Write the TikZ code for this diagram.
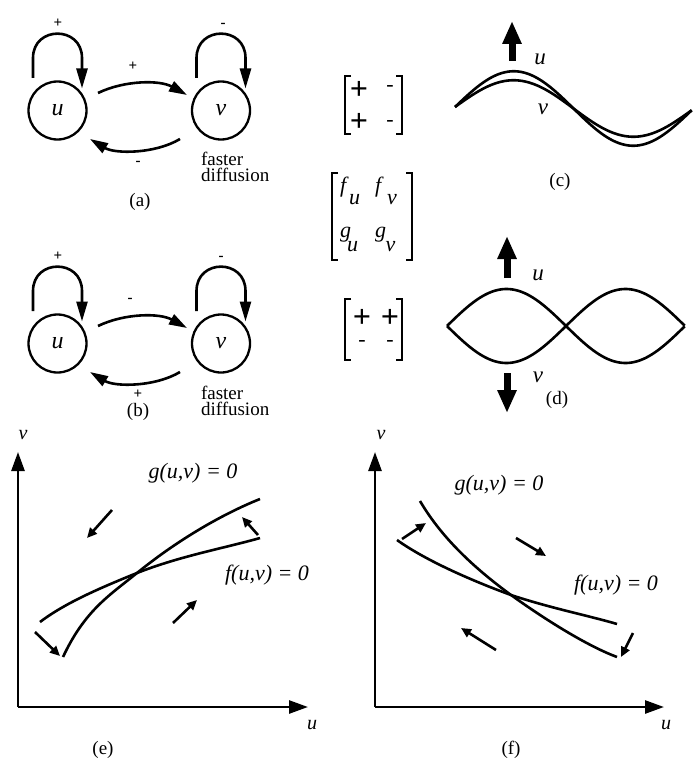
\documentclass[tikz,border=0pt]{standalone}
\usepackage{fontspec}
\setmainfont{Liberation Serif}
\usetikzlibrary{arrows.meta,calc}
\begin{document}
\begin{tikzpicture}[x=1pt,y=-1pt,
  every node/.style={inner sep=0pt, outer sep=0pt},
  varnode/.style={circle, draw, line width=2.3pt, minimum size=58pt, font=\fontsize{24}{24}\selectfont\itshape},
  loopar/.style={line width=2.6pt, -{Triangle[length=20pt,width=11pt]}},
  conn/.style={line width=2.6pt, -{Triangle[length=18pt,width=11pt]}},
  sgn/.style={font=\fontsize{15}{15}\selectfont\bfseries},
  lab/.style={font=\fontsize{19}{16}\selectfont, align=left},
  panellab/.style={font=\fontsize{19}{19}\selectfont},
  bigs/.style={font=\fontsize{32}{32}\selectfont\bfseries},
  smls/.style={font=\fontsize{22}{22}\selectfont},
  ent/.style={font=\fontsize{22}{22}\selectfont\itshape},
  brk/.style={line width=2pt},
  wave/.style={line width=2.6pt},
  blockar/.style={line width=7pt, -{Triangle[length=23pt,width=18pt]}},
  axisar/.style={line width=2.6pt, -{Triangle[length=19pt,width=13pt]}},
  nullc/.style={line width=2.6pt},
  flowar/.style={line width=2.6pt, -{Triangle[length=10pt,width=9pt]}},
  eqlab/.style={font=\fontsize{22}{22}\selectfont\itshape},
  varlab/.style={font=\fontsize{23}{23}\selectfont\itshape},
  axl/.style={font=\fontsize{20}{20}\selectfont\itshape},
  ]
\useasboundingbox (0,0) rectangle (699,765);

% ---------- panel (a)
\node[varnode] (ua) at (57.5,110.5) {u};
\node[varnode] (va) at (221,110.5) {v};
\draw[loopar] ($(ua)+(-24.5,-32.5)$) -- ($(ua)+(-24.5,-52.5)$) .. controls ($(ua)+(-24.5,-85)$) and ($(ua)+(24.5,-85)$) .. ($(ua)+(24.5,-52.5)$) -- ($(ua)+(24.5,-22)$);
\draw[loopar] ($(va)+(-24.5,-32.5)$) -- ($(va)+(-24.5,-52.5)$) .. controls ($(va)+(-24.5,-85)$) and ($(va)+(24.5,-85)$) .. ($(va)+(24.5,-52.5)$) -- ($(va)+(24.5,-22)$);
\node[sgn] (sa1) at (58,23) {+};
\node[sgn] (sa2) at (223,25) {-};
\draw[conn] ($(ua)+(40.5,-17.5)$) .. controls ($(ua)+(67.5,-30.5)$) and ($(va)+(-61,-30.5)$) .. ($(va)+(-34,-15.5)$);
\node[sgn] (sa3) at (133,66) {+};
\draw[conn] ($(va)+(-41,28.5)$) .. controls ($(va)+(-66,43.5)$) and ($(ua)+(57.5,43.5)$) .. ($(ua)+(32.5,28.5)$);
\node[sgn] (sa4) at (138,163) {-};
\node[lab, anchor=north west] (fa) at (201,152) {faster\\diffusion};
\node[panellab] (la) at (140,202) {(a)};

% ---------- panel (b)
\node[varnode] (ub) at (57.5,343.5) {u};
\node[varnode] (vb) at (221,343.5) {v};
\draw[loopar] ($(ub)+(-24.5,-32.5)$) -- ($(ub)+(-24.5,-52.5)$) .. controls ($(ub)+(-24.5,-85)$) and ($(ub)+(24.5,-85)$) .. ($(ub)+(24.5,-52.5)$) -- ($(ub)+(24.5,-22)$);
\draw[loopar] ($(vb)+(-24.5,-32.5)$) -- ($(vb)+(-24.5,-52.5)$) .. controls ($(vb)+(-24.5,-85)$) and ($(vb)+(24.5,-85)$) .. ($(vb)+(24.5,-52.5)$) -- ($(vb)+(24.5,-22)$);
\node[sgn] (sb1) at (58,256) {+};
\node[sgn] (sb2) at (221,258) {-};
\draw[conn] ($(ub)+(40.5,-17.5)$) .. controls ($(ub)+(67.5,-30.5)$) and ($(vb)+(-61,-30.5)$) .. ($(vb)+(-34,-15.5)$);
\node[sgn] (sb3) at (130,300) {-};
\draw[conn] ($(vb)+(-41,28.5)$) .. controls ($(vb)+(-66,43.5)$) and ($(ub)+(57.5,43.5)$) .. ($(ub)+(32.5,28.5)$);
\node[sgn] (sb4) at (138,394) {+};
\node[lab, anchor=north west] (fb) at (201,386) {faster\\diffusion};
\node[panellab] (lb) at (138,412) {(b)};

% ---------- matrices
\draw[brk] (351,76) -- (345,76) -- (345,134) -- (351,134);
\draw[brk] (396,76) -- (402,76) -- (402,134) -- (396,134);
\node[bigs] (m11) at (359,90) {+};
\node[smls] (m12) at (390,88) {-};
\node[bigs] (m13) at (359,122) {+};
\node[smls] (m14) at (390,123) {-};

\draw[brk] (338,173) -- (332,173) -- (332,260) -- (338,260);
\draw[brk] (406,173) -- (412,173) -- (412,260) -- (406,260);
\node[ent, anchor=base west] (fu) at (340,192) {f\kern3pt\raisebox{-12.5pt}{u}};
\node[ent, anchor=base west] (fv) at (375,192) {f\kern6pt\raisebox{-12.5pt}{v}};
\node[ent, anchor=base west] (gu) at (340,237.5) {g\kern-4pt\raisebox{-14pt}{u}};
\node[ent, anchor=base west] (gv) at (375,237.5) {g\kern-0.5pt\raisebox{-14pt}{v}};

\draw[brk] (351,299) -- (345,299) -- (345,360) -- (351,360);
\draw[brk] (396,299) -- (402,299) -- (402,360) -- (396,360);
\node[bigs] (m31) at (362,318) {+};
\node[bigs] (m32) at (390,318) {+};
\node[smls] (m33) at (362,343) {-};
\node[smls] (m34) at (390,343) {-};

% ---------- panel (c)
\coordinate (ca0) at (512,61);
\coordinate (ca1) at (512,21);
\draw[blockar] (ca0) -- (ca1);
\node[varlab] (cu) at (540,59) {u};
\node[varlab] (cv) at (543,109) {v};
\draw[wave] plot[domain=0:1, samples=120, smooth] ({455+237*\x},{107+3*\x-32*sin(360*\x)-4.5*abs(sin(360*\x))});
\draw[wave] plot[domain=0:1, samples=120, smooth] ({455+237*\x},{107+3*\x-32*sin(360*\x)+4.5*abs(sin(360*\x))});
\node[panellab] (lc) at (560,182) {(c)};

% ---------- panel (d)
\coordinate (da0) at (507,278);
\coordinate (da1) at (507,236);
\coordinate (db0) at (507,373);
\coordinate (db1) at (507,413);
\draw[blockar] (da0) -- (da1);
\draw[blockar] (db0) -- (db1);
\node[varlab] (du) at (538,275) {u};
\node[varlab] (dv) at (538,377) {v};
\draw[wave] plot[domain=0:1, samples=120, smooth] ({447+238*\x},{326-37*sin(360*\x)});
\draw[wave] plot[domain=0:1, samples=120, smooth] ({447+238*\x},{326+37*sin(360*\x)});
\node[panellab] (ld) at (557,400) {(d)};

% ---------- panel (e)
\coordinate (eo) at (18,707);
\coordinate (ev) at (18,452);
\coordinate (eu) at (308,707);
\draw[axisar] (eo) -- (ev);
\draw[axisar] (eo) -- (eu);
\node[axl] (evl) at (23,435) {v};
\node[axl] (eul) at (312,725) {u};
\draw[nullc] (63,657) .. controls (85,610) and (110,595) .. (137,573) .. controls (175,542) and (220,515) .. (260,499);
\draw[nullc] (40,622) .. controls (65,603) and (100,588) .. (137,573) .. controls (180,556) and (225,548) .. (260,538);
\coordinate (ea1) at (112,510); \coordinate (ea1t) at (87,538);
\coordinate (ea2) at (258,535); \coordinate (ea2t) at (242,517);
\coordinate (ea3) at (173,623); \coordinate (ea3t) at (197,600);
\coordinate (ea4) at (35,632);  \coordinate (ea4t) at (60,656);
\draw[flowar] (ea1) -- (ea1t);
\draw[flowar] (ea2) -- (ea2t);
\draw[flowar] (ea3) -- (ea3t);
\draw[flowar] (ea4) -- (ea4t);
\node[eqlab] (eg) at (193,473) {g(u,v) = 0};
\node[eqlab] (ef) at (267,575) {f(u,v) = 0};
\node[panellab] (le) at (103,750) {(e)};

% ---------- panel (f)
\coordinate (fo) at (375,707);
\coordinate (fvv) at (375,452);
\coordinate (fuu) at (664,707);
\draw[axisar] (fo) -- (fvv);
\draw[axisar] (fo) -- (fuu);
\node[axl] (fvl) at (381,435) {v};
\node[axl] (ful) at (666,725) {u};
\draw[nullc] (420,501) .. controls (440,535) and (470,565) .. (511,595) .. controls (550,623) and (590,647) .. (617,657);
\draw[nullc] (397,540) .. controls (425,560) and (470,580) .. (511,595) .. controls (550,608) and (590,616) .. (617,624);
\coordinate (fa1) at (402,539); \coordinate (fa1t) at (426,523);
\coordinate (fa2) at (516,538); \coordinate (fa2t) at (546,556);
\coordinate (fa3) at (496,650); \coordinate (fa3t) at (461,628);
\coordinate (fa4) at (633,633); \coordinate (fa4t) at (621,657);
\draw[flowar] (fa1) -- (fa1t);
\draw[flowar] (fa2) -- (fa2t);
\draw[flowar] (fa3) -- (fa3t);
\draw[flowar] (fa4) -- (fa4t);
\node[eqlab] (fg) at (499,485) {g(u,v) = 0};
\node[eqlab] (ff) at (616,585) {f(u,v) = 0};
\node[panellab] (lf) at (511,750) {(f)};
\end{tikzpicture}
\end{document}
